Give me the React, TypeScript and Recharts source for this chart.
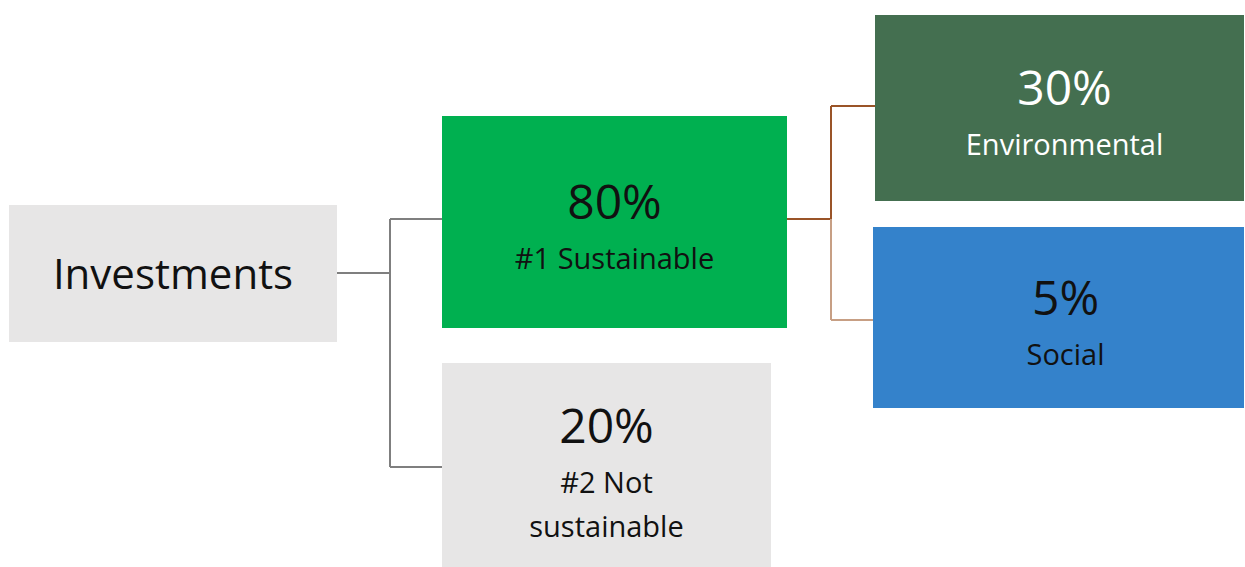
import { ComposedChart, ReferenceArea, ReferenceLine, XAxis, YAxis } from "recharts";

const nodeIds = ["root", "sustainable", "notSustainable", "environmental", "social"];
const nodeLabels = ["Investments", "#1 Sustainable", "#2 Not\nsustainable", "Environmental", "Social"];
const nodeShares: (number | null)[] = [null, 80, 20, 30, 5];
const nodeParents: (string | null)[] = [null, "root", "root", "sustainable", "sustainable"];

// diagram layout, in chart units (x 0..1245, y 0..567 top-down)
// boxes on the right / bottom run past the picture edge, so text is nudged by dx/dy
const layout: Record<
  string,
  { x1: number; x2: number; y1: number; y2: number; inY: number; dx: number; dy: number; fill: string; text: string; edge: string }
> = {
  root: { x1: 9, x2: 337, y1: 205, y2: 342, inY: 273, dx: 0, dy: 0, fill: "#e7e6e6", text: "#111", edge: "#7f7f7f" },
  sustainable: { x1: 442, x2: 787, y1: 116, y2: 328, inY: 219, dx: 0, dy: 0, fill: "#00b050", text: "#111", edge: "#7f7f7f" },
  notSustainable: { x1: 442, x2: 771, y1: 363, y2: 567, inY: 467, dx: 0, dy: -19, fill: "#e7e6e6", text: "#111", edge: "#7f7f7f" },
  environmental: { x1: 875, x2: 1244, y1: 15, y2: 201, inY: 106, dx: 5, dy: 0, fill: "#446f50", text: "#ffffff", edge: "#9a5428" },
  social: { x1: 873, x2: 1244, y1: 227, y2: 408, inY: 320, dx: 7, dy: 0, fill: "#3482cb", text: "#111", edge: "#c79f84" },
};

const branchStyle: Record<string, { outY: number; elbowX: number; stroke: string }> = {
  root: { outY: 273, elbowX: 390, stroke: "#7f7f7f" },
  sustainable: { outY: 219, elbowX: 831, stroke: "#9a5428" },
};

const FONT = "'Open Sans', sans-serif";

const data = nodeIds.map((id) => ({
  id,
  cx: (layout[id].x1 + layout[id].x2) / 2,
  cy: (layout[id].y1 + layout[id].y2) / 2,
}));

function NodeLabel({ viewBox, name, share, color, dx, dy }: any) {
  if (!viewBox) return null;
  const cx = viewBox.x + viewBox.width / 2 + dx;
  const cy = viewBox.y + viewBox.height / 2 + dy;
  if (share == null) {
    return (
      <text x={cx} y={cy + 15} textAnchor="middle" fontFamily={FONT} fontSize={42} fill={color}>
        {name}
      </text>
    );
  }
  const lines = String(name).split("\n");
  return (
    <g>
      <text x={cx} y={cy - 3} textAnchor="middle" fontFamily={FONT} fontSize={48} fill={color}>
        {share}%
      </text>
      {lines.map((line, i) => (
        <text
          key={line}
          x={cx}
          y={cy - 3 + 50 + i * 44}
          textAnchor="middle"
          fontFamily={FONT}
          fontSize={29}
          fill={color}
        >
          {line}
        </text>
      ))}
    </g>
  );
}

export default function App() {
  const edges = nodeIds
    .map((id, i) => ({ id, parent: nodeParents[i] }))
    .filter((e) => e.parent != null) as { id: string; parent: string }[];

  return (
    <div style={{ position: "absolute", left: 0, top: 0, background: "#fff" }}>
      <ComposedChart width={1245} height={567} data={data} margin={{ top: 0, right: 0, bottom: 0, left: 0 }}>
        <XAxis type="number" dataKey="cx" domain={[0, 1245]} allowDataOverflow hide />
        <YAxis type="number" dataKey="cy" domain={[0, 567]} reversed allowDataOverflow hide />

        {Object.keys(branchStyle).map((pid) => {
          const b = branchStyle[pid];
          return (
            <ReferenceLine
              key={`stub-${pid}`}
              segment={[
                { x: layout[pid].x2, y: b.outY },
                { x: b.elbowX, y: b.outY },
              ]}
              stroke={b.stroke}
              strokeWidth={2}
              ifOverflow="visible"
            />
          );
        })}
        {edges.map((e) => {
          const b = branchStyle[e.parent];
          const child = layout[e.id];
          return [
            <ReferenceLine
              key={`v-${e.id}`}
              segment={[
                { x: b.elbowX, y: b.outY },
                { x: b.elbowX, y: child.inY },
              ]}
              stroke={child.edge}
              strokeWidth={2}
              ifOverflow="visible"
            />,
            <ReferenceLine
              key={`h-${e.id}`}
              segment={[
                { x: b.elbowX, y: child.inY },
                { x: child.x1, y: child.inY },
              ]}
              stroke={child.edge}
              strokeWidth={2}
              ifOverflow="visible"
            />,
          ];
        })}

        {nodeIds.map((id, i) => {
          const n = layout[id];
          return (
            <ReferenceArea
              key={id}
              x1={n.x1}
              x2={n.x2}
              y1={n.y1}
              y2={n.y2}
              fill={n.fill}
              fillOpacity={1}
              stroke="none"
              ifOverflow="hidden"
              label={(props: any) => (
                <NodeLabel
                  viewBox={props.viewBox}
                  name={nodeLabels[i]}
                  share={nodeShares[i]}
                  color={n.text}
                  dx={n.dx}
                  dy={n.dy}
                />
              )}
            />
          );
        })}
      </ComposedChart>
    </div>
  );
}
